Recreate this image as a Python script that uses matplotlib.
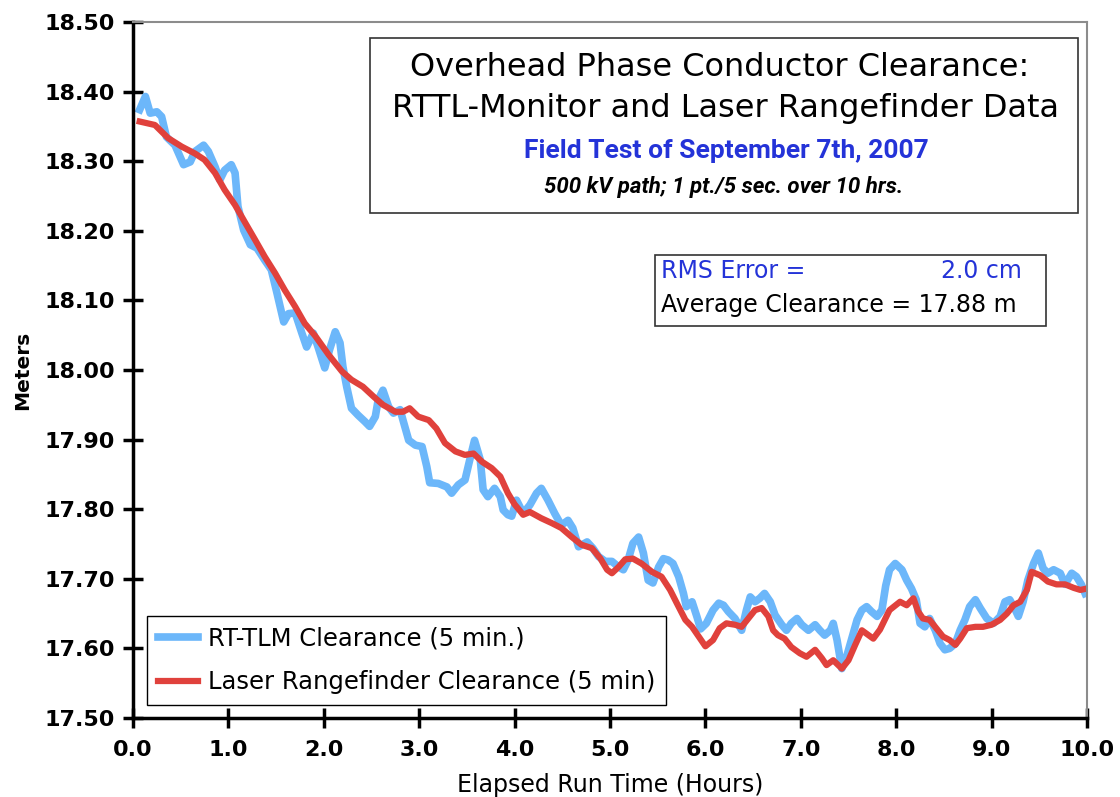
import matplotlib
matplotlib.use('Agg')
import matplotlib.pyplot as plt
from matplotlib.patches import Rectangle

# RT-TLM clearance (5 min)
tlm_hours = [0.07, 0.13, 0.18, 0.25, 0.30, 0.35, 0.44, 0.53, 0.60, 0.65, 0.74, 0.79, 0.86, 0.91, 0.96,
             1.03, 1.07, 1.10, 1.16, 1.23, 1.30, 1.38, 1.45, 1.51, 1.58, 1.63, 1.70, 1.77, 1.82, 1.89,
             1.94, 2.01, 2.06, 2.12, 2.17, 2.20, 2.24, 2.29, 2.36, 2.43, 2.48, 2.54, 2.57, 2.62, 2.68,
             2.73, 2.80, 2.83, 2.89, 2.96, 3.03, 3.08, 3.11, 3.20, 3.29, 3.34, 3.41, 3.48, 3.53, 3.58,
             3.64, 3.67, 3.72, 3.79, 3.85, 3.88, 3.93, 3.97, 4.02, 4.09, 4.16, 4.23, 4.28, 4.35, 4.42,
             4.49, 4.56, 4.61, 4.67, 4.76, 4.82, 4.88, 4.95, 5.02, 5.09, 5.14, 5.19, 5.24, 5.30, 5.35,
             5.40, 5.45, 5.51, 5.56, 5.61, 5.66, 5.72, 5.77, 5.80, 5.86, 5.91, 5.95, 6.01, 6.08, 6.14,
             6.19, 6.24, 6.31, 6.38, 6.43, 6.47, 6.52, 6.57, 6.62, 6.68, 6.73, 6.80, 6.85, 6.90, 6.96,
             7.01, 7.08, 7.15, 7.20, 7.25, 7.31, 7.34, 7.38, 7.43, 7.48, 7.53, 7.59, 7.64, 7.69, 7.74,
             7.80, 7.85, 7.89, 7.93, 7.99, 8.06, 8.11, 8.16, 8.21, 8.25, 8.30, 8.35, 8.41, 8.46, 8.51,
             8.56, 8.62, 8.67, 8.72, 8.77, 8.83, 8.88, 8.95, 9.02, 9.09, 9.14, 9.19, 9.25, 9.28, 9.33,
             9.38, 9.44, 9.49, 9.54, 9.59, 9.65, 9.72, 9.77, 9.84, 9.89, 9.94, 9.98]
tlm_m = [18.374, 18.393, 18.369, 18.371, 18.364, 18.335, 18.323, 18.295, 18.299, 18.314, 18.323, 18.314,
         18.292, 18.273, 18.287, 18.295, 18.283, 18.235, 18.201, 18.180, 18.175, 18.158, 18.144, 18.110,
         18.069, 18.081, 18.082, 18.053, 18.033, 18.053, 18.033, 18.003, 18.029, 18.055, 18.039, 18.005,
         17.976, 17.945, 17.935, 17.926, 17.919, 17.933, 17.957, 17.971, 17.947, 17.938, 17.943, 17.928,
         17.899, 17.892, 17.890, 17.861, 17.838, 17.837, 17.832, 17.823, 17.835, 17.842, 17.871, 17.899,
         17.871, 17.828, 17.818, 17.830, 17.818, 17.799, 17.792, 17.790, 17.813, 17.794, 17.806, 17.823,
         17.830, 17.813, 17.794, 17.777, 17.784, 17.773, 17.746, 17.753, 17.744, 17.732, 17.725, 17.725,
         17.717, 17.713, 17.727, 17.751, 17.760, 17.737, 17.698, 17.694, 17.717, 17.729, 17.727, 17.722,
         17.703, 17.679, 17.660, 17.667, 17.646, 17.628, 17.636, 17.655, 17.665, 17.662, 17.653, 17.643,
         17.626, 17.655, 17.674, 17.667, 17.672, 17.679, 17.667, 17.648, 17.634, 17.626, 17.636, 17.643,
         17.634, 17.626, 17.634, 17.626, 17.619, 17.626, 17.636, 17.612, 17.571, 17.588, 17.612, 17.641,
         17.655, 17.660, 17.653, 17.646, 17.655, 17.690, 17.713, 17.722, 17.713, 17.698, 17.686, 17.670,
         17.636, 17.631, 17.643, 17.626, 17.607, 17.598, 17.600, 17.607, 17.626, 17.641, 17.660, 17.670,
         17.658, 17.643, 17.636, 17.646, 17.667, 17.670, 17.655, 17.646, 17.667, 17.698, 17.722, 17.737,
         17.715, 17.708, 17.713, 17.708, 17.692, 17.708, 17.703, 17.692, 17.679]

# Laser rangefinder clearance (5 min)
laser_hours = [0.07, 0.23, 0.37, 0.51, 0.65, 0.75, 0.86, 0.96, 1.07, 1.17, 1.28, 1.38, 1.49, 1.59, 1.70,
               1.80, 1.91, 2.05, 2.19, 2.29, 2.41, 2.52, 2.62, 2.75, 2.83, 2.90, 2.99, 3.10, 3.18, 3.27,
               3.38, 3.48, 3.57, 3.66, 3.76, 3.85, 3.93, 4.00, 4.09, 4.16, 4.28, 4.39, 4.49, 4.60, 4.70,
               4.81, 4.90, 4.97, 5.02, 5.09, 5.16, 5.24, 5.33, 5.44, 5.54, 5.63, 5.70, 5.79, 5.86, 5.93,
               6.00, 6.08, 6.15, 6.22, 6.31, 6.38, 6.45, 6.52, 6.59, 6.66, 6.71, 6.76, 6.83, 6.90, 6.99,
               7.06, 7.15, 7.22, 7.27, 7.34, 7.43, 7.50, 7.57, 7.64, 7.69, 7.76, 7.83, 7.93, 8.04, 8.11,
               8.18, 8.23, 8.28, 8.35, 8.42, 8.49, 8.56, 8.62, 8.67, 8.74, 8.83, 8.91, 9.00, 9.09, 9.16,
               9.23, 9.30, 9.37, 9.42, 9.51, 9.59, 9.68, 9.77, 9.86, 9.93, 10.0]
laser_m = [18.357, 18.352, 18.333, 18.321, 18.311, 18.302, 18.283, 18.259, 18.237, 18.213, 18.187, 18.163,
           18.139, 18.115, 18.091, 18.067, 18.049, 18.022, 17.998, 17.986, 17.976, 17.962, 17.950, 17.940,
           17.940, 17.945, 17.933, 17.928, 17.916, 17.895, 17.883, 17.878, 17.880, 17.868, 17.859, 17.847,
           17.823, 17.807, 17.792, 17.796, 17.787, 17.780, 17.773, 17.760, 17.749, 17.744, 17.729, 17.713,
           17.708, 17.717, 17.728, 17.729, 17.722, 17.710, 17.703, 17.684, 17.665, 17.641, 17.631, 17.617,
           17.603, 17.612, 17.629, 17.636, 17.634, 17.631, 17.643, 17.655, 17.658, 17.646, 17.626, 17.619,
           17.614, 17.602, 17.593, 17.588, 17.598, 17.586, 17.576, 17.583, 17.571, 17.583, 17.605, 17.626,
           17.621, 17.614, 17.627, 17.655, 17.667, 17.662, 17.672, 17.653, 17.643, 17.641, 17.629, 17.617,
           17.612, 17.605, 17.614, 17.629, 17.631, 17.631, 17.634, 17.641, 17.650, 17.662, 17.667, 17.684,
           17.710, 17.705, 17.696, 17.692, 17.692, 17.687, 17.684, 17.686]

x_ticks = [0, 1, 2, 3, 4, 5, 6, 7, 8, 9, 10]
y_ticks = [17.5, 17.6, 17.7, 17.8, 17.9, 18.0, 18.1, 18.2, 18.3, 18.4, 18.5]

W, H = 1120, 797
fig = plt.figure(figsize=(W / 100, H / 100), dpi=100)
ax = fig.add_axes([133 / W, 1 - 718 / H, 954 / W, 696 / H])

ax.plot(tlm_hours, tlm_m, color='#6cb7fa', lw=5.5, solid_joinstyle='round',
        label='RT-TLM Clearance (5 min.)')
ax.plot(laser_hours, laser_m, color='#e0413c', lw=4.5, solid_joinstyle='round',
        label='Laser Rangefinder Clearance (5 min)')

ax.set_xlim(0, 10)
ax.set_ylim(17.5, 18.5)
ax.set_xticks(x_ticks)
ax.set_xticklabels([f'{t:.1f}' for t in x_ticks])
ax.set_yticks(y_ticks)
ax.set_yticklabels([f'{t:.2f}' for t in y_ticks])
ax.tick_params(direction='inout', length=14, width=2.5, labelsize=16)
ax.tick_params(axis='y', pad=6)
ax.tick_params(axis='x', pad=9)
for lab in ax.get_xticklabels() + ax.get_yticklabels():
    lab.set_fontweight('bold')

for side in ['left', 'bottom']:
    ax.spines[side].set_linewidth(2.5)
    ax.spines[side].set_color('black')
for side in ['top', 'right']:
    ax.spines[side].set_linewidth(1.5)
    ax.spines[side].set_color('#8c8c8c')

ax.set_xlabel('Elapsed Run Time (Hours)', fontsize=17, labelpad=9)
ax.set_ylabel('Meters', fontsize=14.5, fontweight='bold', labelpad=9)

leg = ax.legend(loc='lower left', bbox_to_anchor=(14 / 954, 13 / 696), borderaxespad=0,
                fontsize=17.5, fancybox=False, edgecolor='black', framealpha=1,
                handlelength=1.65, handletextpad=0.4, labelspacing=0.8, borderpad=0.45)
leg.get_frame().set_linewidth(1.0)


def fx(px):
    return px / W


def fy(py):
    return 1 - py / H


# title box
fig.add_artist(Rectangle((fx(370), fy(213)), (1078 - 370) / W, (213 - 38) / H,
                         transform=fig.transFigure, fill=False, edgecolor='#333333', lw=1.2))
fig.text(fx(720), fy(68), 'Overhead Phase Conductor Clearance:', ha='center', va='center', fontsize=23)
fig.text(fx(726), fy(108), 'RTTL-Monitor and Laser Rangefinder Data', ha='center', va='center', fontsize=23)
fig.text(fx(726), fy(151), 'Field Test of September 7th, 2007', ha='center', va='center',
         fontsize=19, fontweight='bold', color='#2433d8', family='Roboto')
fig.text(fx(724), fy(187), '500 kV path; 1 pt./5 sec. over 10 hrs.', ha='center', va='center',
         fontsize=16, fontweight='bold', style='italic', family='Roboto')

# stats box
fig.add_artist(Rectangle((fx(655), fy(326)), (1046 - 655) / W, (326 - 255) / H,
                         transform=fig.transFigure, fill=False, edgecolor='#333333', lw=1.2))
fig.text(fx(661), fy(271), 'RMS Error =', ha='left', va='center', fontsize=17, color='#2433d8')
fig.text(fx(1022), fy(271), '2.0 cm', ha='right', va='center', fontsize=17, color='#2433d8')
fig.text(fx(661), fy(305), 'Average Clearance = 17.88 m', ha='left', va='center', fontsize=17)

fig.savefig('out.png', dpi=100)
